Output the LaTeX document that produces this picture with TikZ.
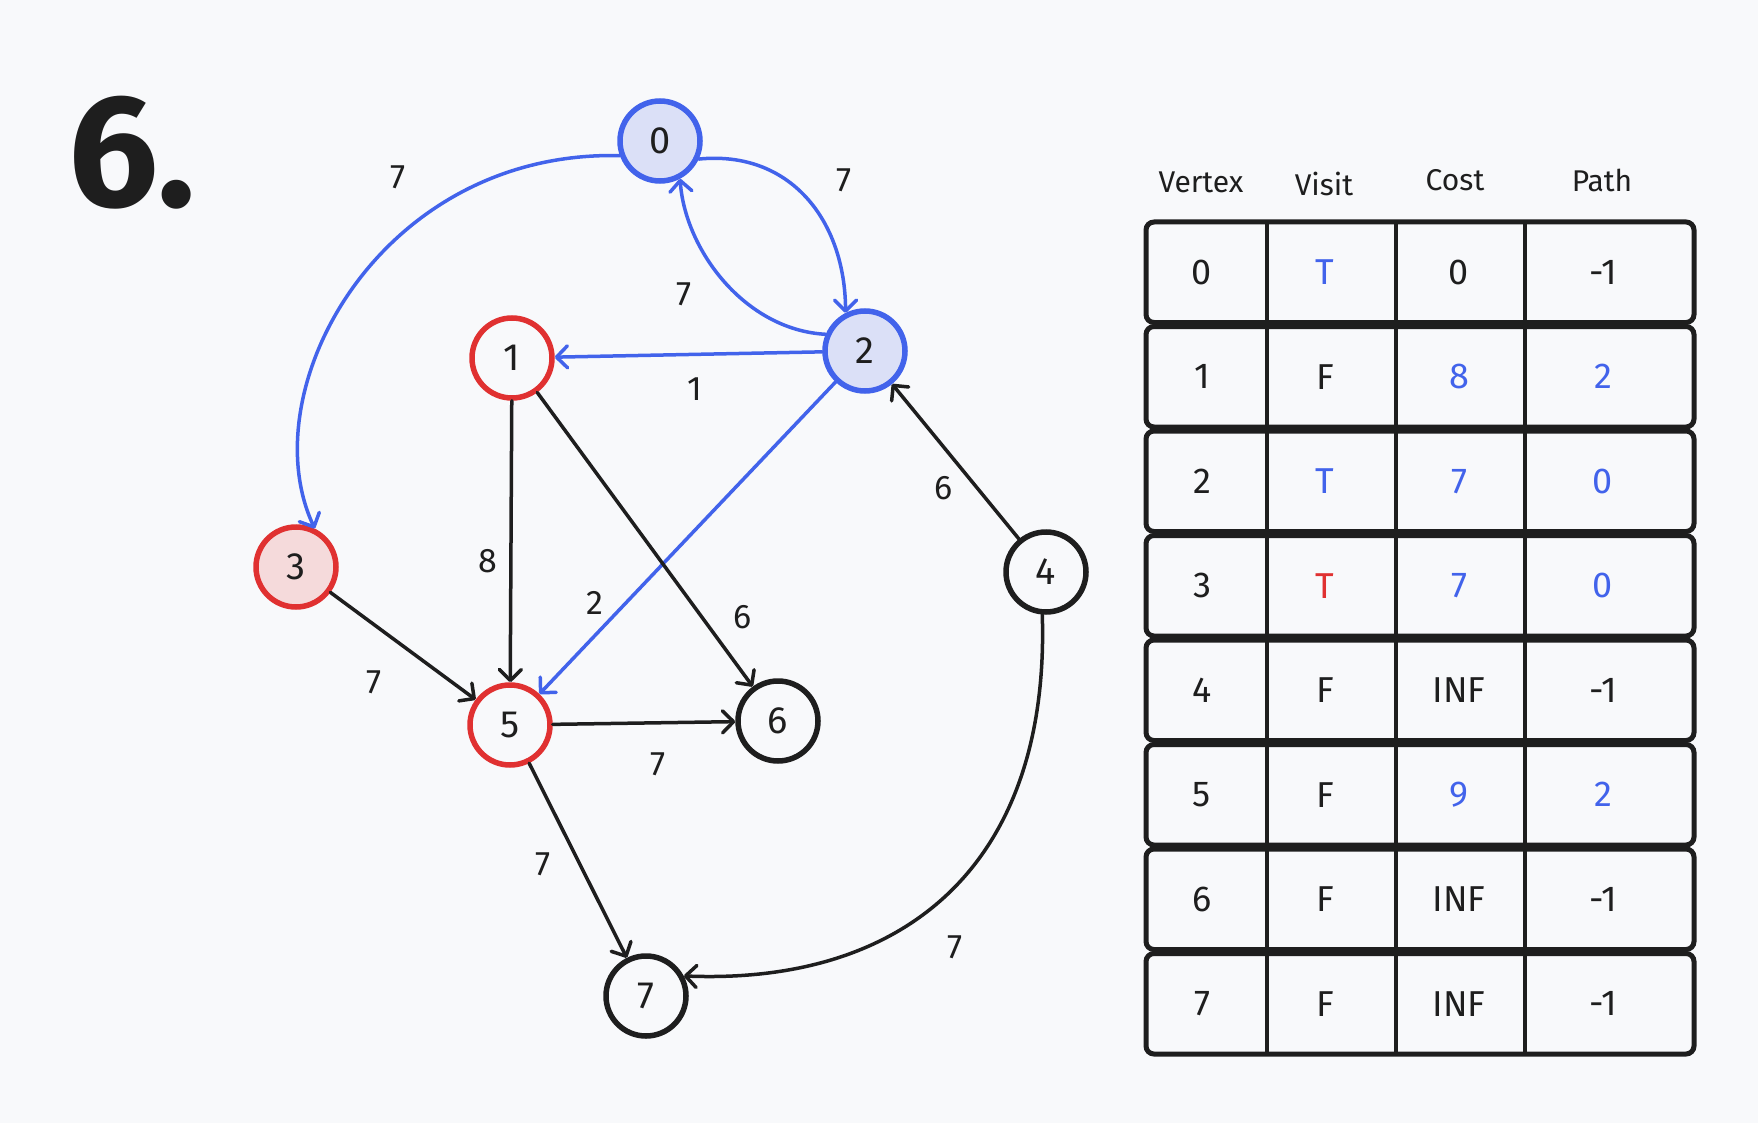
\documentclass[tikz,border=0pt]{standalone}
\usepackage{fontspec}
\setmainfont{Fira Sans}
\usetikzlibrary{arrows.meta}
\definecolor{bg}{HTML}{F8F9FB}
\definecolor{ink}{HTML}{1E1E1E}
\definecolor{bl}{HTML}{4263EB}
\definecolor{blfill}{HTML}{DBE0F7}
\definecolor{rd}{HTML}{E03131}
\definecolor{rdfill}{HTML}{F5DADB}
\begin{document}
\begin{tikzpicture}[x=1pt,y=-1pt,
 vtx/.style={circle, draw=ink, line width=5.5pt, minimum size=80pt, inner sep=0pt, font=\fontsize{38}{40}\selectfont, text=ink},
 bvtx/.style={vtx, draw=bl, fill=blfill},
 rvtx/.style={vtx, draw=rd},
 rfvtx/.style={vtx, draw=rd, fill=rdfill},
 edge/.style={line width=3.5pt, draw=ink, line cap=round, -{Straight Barb[length=11pt, width=22pt, round]}},
 bedge/.style={edge, draw=bl},
 wlab/.style={font=\fontsize{34}{36}\selectfont, text=ink, inner sep=0pt},
 hdr/.style={font=\fontsize{30}{32}\selectfont, text=ink, inner sep=0pt},
 cell/.style={font=\fontsize{36}{38}\selectfont, inner sep=0pt},
 rowbox/.style={draw=ink, line width=5pt, rounded corners=8pt},
 sep/.style={draw=ink, line width=4pt}
]
\fill[bg] (0,0) rectangle (1758,1123);
\useasboundingbox (0,0) rectangle (1758,1123);

% title
\node[font=\fontsize{160}{160}\selectfont\bfseries, text=ink, inner sep=0pt] (title) at (132,153) {6.};

% vertices
\node[bvtx] (n0) at (660,141) {0};
\node[bvtx] (n2) at (865,351) {2};
\node[rvtx] (n1) at (512,358) {1};
\node[rfvtx] (n3) at (296,567) {3};
\node[vtx] (n4) at (1046,572) {4};
\node[rvtx] (n5) at (510,725) {5};
\node[vtx] (n6) at (778,721) {6};
\node[vtx] (n7) at (646,996) {7};

% curved blue edges
\draw[bedge] (n0.200) .. controls (380,150) and (250,390) .. (n3.64);
\draw[bedge] (n0.-25) .. controls (790,150) and (845,220) .. (n2.117);
\draw[bedge] (n2.157) .. controls (745,330) and (685,250) .. (n0.-62);

% straight edges
\draw[bedge] (n2) -- (n1);
\draw[bedge] (n2) -- (n5);
\draw[edge] (n4) -- (n2);
\draw[edge] (n1) -- (n5);
\draw[edge] (n1) -- (n6);
\draw[edge] (n3) -- (n5);
\draw[edge] (n5) -- (n6);
\draw[edge] (n5) -- (n7);
\draw[edge] (n4.-95) .. controls (1050,860) and (910,985) .. (n7.28);

% edge labels
\node[wlab] (l03) at (398,177) {7};
\node[wlab] (l02) at (844,180) {7};
\node[wlab] (l20) at (684,294) {7};
\node[wlab] (l21) at (695,389) {1};
\node[wlab] (l25) at (595,603) {2};
\node[wlab] (l42) at (944,488) {6};
\node[wlab] (l15) at (488,561) {8};
\node[wlab] (l16) at (743,617) {6};
\node[wlab] (l35) at (374,682) {7};
\node[wlab] (l56) at (658,764) {7};
\node[wlab] (l57) at (543,864) {7};
\node[wlab] (l47) at (955,947) {7};

% table headers
\node[hdr] (hv) at (1201,182) {Vertex};
\node[hdr] (hvi) at (1324,184) {Visit};
\node[hdr] (hc) at (1455,180) {Cost};
\node[hdr] (hp) at (1602,180) {Path};

% table rows
\foreach \i/\ac/\a/\bc/\b/\cc/\c/\dc/\d in {
 0/ink/0/bl/T/ink/0/ink/-1,
 1/ink/1/ink/F/bl/8/bl/2,
 2/ink/2/bl/T/bl/7/bl/0,
 3/ink/3/rd/T/bl/7/bl/0,
 4/ink/4/ink/F/ink/INF/ink/-1,
 5/ink/5/ink/F/bl/9/bl/2,
 6/ink/6/ink/F/ink/INF/ink/-1,
 7/ink/7/ink/F/ink/INF/ink/-1}{
  \pgfmathsetmacro{\yt}{220+104.5*\i+2}
  \pgfmathsetmacro{\yb}{220+104.5*(\i+1)-2}
  \pgfmathsetmacro{\yc}{220+104.5*(\i+0.5)}
  \draw[rowbox] (1146,\yt) rectangle (1694,\yb);
  \draw[sep] (1267,\yt) -- (1267,\yb);
  \draw[sep] (1396,\yt) -- (1396,\yb);
  \draw[sep] (1525,\yt) -- (1525,\yb);
  \node[cell, text=\ac] (va\i) at (1202,\yc) {\a};
  \node[cell, text=\bc] (vb\i) at (1325,\yc) {\b};
  \node[cell, text=\cc] (vc\i) at (1459,\yc) {\c};
  \node[cell, text=\dc] (vd\i) at (1603,\yc) {\d};
}
\end{tikzpicture}
\end{document}
